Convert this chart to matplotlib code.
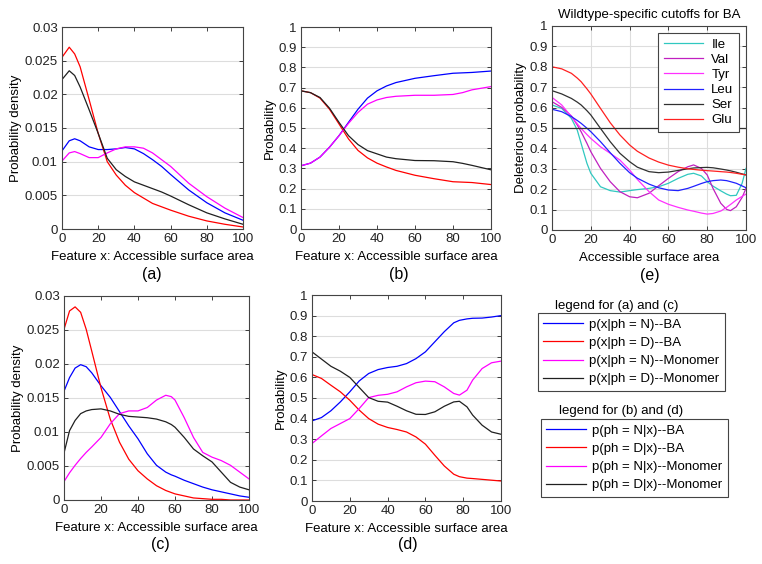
import numpy as np
import matplotlib
matplotlib.use("Agg")
from matplotlib import pyplot as plt
from matplotlib.lines import Line2D

plt.rcParams['font.family'] = ['Liberation Sans', 'DejaVu Sans']
plt.rcParams['font.size'] = 9.5
FS = 9.5

#%% data

# (a) class-conditional densities, Monomer/BA
xa = [0, 4, 7, 10, 15, 20, 25, 30, 35, 40, 45, 50, 55, 60, 70, 80, 90, 100]
a_N_BA = [0.0116, 0.0131, 0.0134, 0.0131, 0.0122, 0.0118, 0.0118, 0.0119, 0.0121, 0.0119,
          0.0112, 0.0103, 0.0093, 0.0081, 0.0058, 0.0039, 0.0024, 0.0013]
a_D_BA = [0.0255, 0.0270, 0.0260, 0.0241, 0.0192, 0.0142, 0.0100, 0.0080, 0.0065, 0.0054,
          0.0046, 0.0038, 0.0033, 0.0028, 0.0019, 0.0012, 0.0007, 0.0003]
a_N_Mo = [0.0101, 0.0113, 0.0115, 0.0112, 0.0106, 0.0106, 0.0113, 0.0119, 0.0122, 0.0122,
          0.0120, 0.0113, 0.0103, 0.0093, 0.0068, 0.0048, 0.0031, 0.0017]
a_D_Mo = [0.0222, 0.0235, 0.0228, 0.0211, 0.0177, 0.0142, 0.0105, 0.0088, 0.0078, 0.0070,
          0.0065, 0.0060, 0.0055, 0.0049, 0.0036, 0.0024, 0.0015, 0.0007]

# (b) posteriors
xb = [0, 5, 10, 15, 20, 25, 30, 35, 40, 45, 50, 60, 70, 80, 85, 90, 100]
b_N_BA = [0.313, 0.326, 0.356, 0.405, 0.462, 0.528, 0.593, 0.648, 0.684, 0.708, 0.725,
          0.746, 0.759, 0.771, 0.773, 0.775, 0.782]
b_D_BA = [0.684, 0.675, 0.648, 0.593, 0.520, 0.446, 0.389, 0.352, 0.326, 0.307, 0.290,
          0.266, 0.249, 0.234, 0.232, 0.230, 0.220]
b_N_Mo = [0.313, 0.326, 0.356, 0.405, 0.462, 0.523, 0.577, 0.618, 0.639, 0.651, 0.657,
          0.662, 0.662, 0.666, 0.675, 0.689, 0.705]
b_D_Mo = [0.684, 0.675, 0.651, 0.598, 0.528, 0.462, 0.418, 0.388, 0.372, 0.356, 0.348,
          0.339, 0.338, 0.333, 0.325, 0.315, 0.293]

# (c)
xc = [0, 3, 6, 9, 12, 15, 20, 25, 30, 35, 40, 45, 50, 55, 58, 60, 65, 70, 75, 80, 85, 90, 95, 100]
c_N_BA = [0.0160, 0.0180, 0.0194, 0.0199, 0.0196, 0.0187, 0.0168, 0.0151, 0.0130, 0.0109,
          0.0090, 0.0068, 0.0051, 0.0041, 0.0037, 0.0035, 0.0029, 0.0024, 0.0019, 0.0015,
          0.0012, 0.0009, 0.0006, 0.0004]
c_D_BA = [0.0251, 0.0278, 0.0284, 0.0276, 0.0251, 0.0219, 0.0165, 0.0119, 0.0085, 0.0060,
          0.0043, 0.0031, 0.0021, 0.0014, 0.0011, 0.0009, 0.0006, 0.0003, 0.0002, 0.0001,
          0.0001, 0.0, 0.0, 0.0]
c_N_Mo = [0.0027, 0.0040, 0.0051, 0.0061, 0.0070, 0.0078, 0.0092, 0.0112, 0.0127, 0.0131,
          0.0131, 0.0136, 0.0147, 0.0154, 0.0152, 0.0147, 0.0121, 0.0092, 0.0070, 0.0063,
          0.0058, 0.0051, 0.0041, 0.0031]
c_D_Mo = [0.0069, 0.0102, 0.0117, 0.0127, 0.0131, 0.0133, 0.0134, 0.0131, 0.0126, 0.0123,
          0.0122, 0.0121, 0.0119, 0.0115, 0.0111, 0.0107, 0.0092, 0.0075, 0.0065, 0.0056,
          0.0041, 0.0026, 0.0019, 0.0015]

# (d)
xd = [0, 5, 10, 15, 20, 25, 30, 35, 40, 45, 50, 55, 60, 65, 70, 75, 78, 82, 85, 90, 95, 100]
d_N_BA = [0.389, 0.405, 0.438, 0.481, 0.530, 0.583, 0.619, 0.638, 0.648, 0.654, 0.667,
          0.691, 0.724, 0.773, 0.822, 0.865, 0.877, 0.884, 0.887, 0.888, 0.893, 0.900]
d_D_BA = [0.614, 0.595, 0.562, 0.530, 0.489, 0.441, 0.400, 0.373, 0.357, 0.347, 0.335,
          0.311, 0.276, 0.222, 0.170, 0.130, 0.118, 0.111, 0.109, 0.105, 0.101, 0.097]
d_N_Mo = [0.279, 0.316, 0.352, 0.376, 0.400, 0.449, 0.502, 0.513, 0.518, 0.530, 0.554,
          0.574, 0.582, 0.579, 0.554, 0.522, 0.514, 0.538, 0.587, 0.643, 0.671, 0.679]
d_D_Mo = [0.724, 0.689, 0.654, 0.630, 0.600, 0.551, 0.502, 0.484, 0.480, 0.460, 0.438,
          0.421, 0.420, 0.433, 0.460, 0.481, 0.484, 0.457, 0.417, 0.368, 0.335, 0.324]

# (e) wildtype-specific deleterious probability
xe = [0, 5, 10, 13, 15, 18, 20, 25, 30, 35, 40, 44, 50, 55, 60, 65, 70, 73, 77, 80, 83, 87,
      90, 92, 95, 98, 100]
e_Ile = [0.613, 0.596, 0.547, 0.490, 0.425, 0.327, 0.278, 0.212, 0.193, 0.186, 0.193, 0.198,
         0.204, 0.212, 0.229, 0.253, 0.273, 0.278, 0.265, 0.237, 0.215, 0.192, 0.176, 0.168,
         0.170, 0.229, 0.302]
e_Val = [0.629, 0.601, 0.559, 0.515, 0.482, 0.425, 0.384, 0.302, 0.237, 0.188, 0.163, 0.158,
         0.180, 0.217, 0.253, 0.286, 0.310, 0.319, 0.302, 0.270, 0.204, 0.131, 0.101, 0.095,
         0.114, 0.160, 0.204]
e_Tyr = [0.650, 0.613, 0.556, 0.521, 0.498, 0.468, 0.449, 0.408, 0.376, 0.343, 0.294, 0.248,
         0.188, 0.147, 0.126, 0.111, 0.098, 0.092, 0.083, 0.078, 0.081, 0.093, 0.111, 0.125,
         0.147, 0.165, 0.176]
e_Leu = [0.592, 0.580, 0.556, 0.537, 0.523, 0.499, 0.482, 0.433, 0.379, 0.327, 0.281, 0.254,
         0.225, 0.207, 0.196, 0.193, 0.204, 0.214, 0.228, 0.237, 0.242, 0.245, 0.242, 0.237,
         0.229, 0.216, 0.207]
e_Ser = [0.683, 0.667, 0.645, 0.627, 0.613, 0.585, 0.564, 0.498, 0.433, 0.376, 0.335, 0.308,
         0.286, 0.281, 0.284, 0.292, 0.300, 0.304, 0.306, 0.307, 0.305, 0.299, 0.294, 0.290,
         0.283, 0.275, 0.270]
e_Glu = [0.800, 0.790, 0.768, 0.745, 0.727, 0.692, 0.667, 0.596, 0.526, 0.466, 0.417, 0.386,
         0.353, 0.333, 0.318, 0.308, 0.300, 0.297, 0.293, 0.291, 0.289, 0.286, 0.284, 0.282,
         0.278, 0.273, 0.270]
cutoff = 0.5

labels_ac = ["p(x|ph = N)--BA", "p(x|ph = D)--BA", "p(x|ph = N)--Monomer", "p(x|ph = D)--Monomer"]
labels_bd = ["p(ph = N|x)--BA", "p(ph = D|x)--BA", "p(ph = N|x)--Monomer", "p(ph = D|x)--Monomer"]
aa_names = ["Ile", "Val", "Tyr", "Leu", "Ser", "Glu"]

#%% plotting

cols = ["#0000ff", "#ff0000", "#ff00ff", "#202020"]
aa_cols = ["#30c8c0", "#c020c0", "#ff30ff", "#2020ff", "#303030", "#ff2020"]
lw = 0.9

fig = plt.figure(figsize=(7.62, 5.64), dpi=100)


def style(ax, ylim, yticks, xgrid=False):
    ax.set_xlim(0, 100)
    ax.set_ylim(*ylim)
    ax.set_xticks(np.arange(0, 101, 20))
    ax.set_yticks(yticks)
    ax.set_yticklabels([("%g" % t) for t in yticks])
    ax.tick_params(direction="in", top=True, right=True, length=3, width=0.6,
                   labelsize=FS, colors="#222222", pad=3)
    ax.grid(axis="y", color="#dddddd", linewidth=0.8)
    if xgrid:
        ax.grid(axis="x", color="#dddddd", linewidth=0.8)
    ax.set_axisbelow(True)
    for s in ax.spines.values():
        s.set_color("#444444")
        s.set_linewidth(0.8)


W, H = 762., 564.


def box(l, r, t, b):
    return [l / W, 1 - b / H, (r - l) / W, (b - t) / H]


ax_a = fig.add_axes(box(62, 243, 27, 229))
ax_b = fig.add_axes(box(301, 491, 27, 229))
ax_e = fig.add_axes(box(552, 746, 26, 230))
ax_c = fig.add_axes(box(64, 249, 296, 500))
ax_d = fig.add_axes(box(312, 501, 295, 501))

for ys, c in zip([a_N_BA, a_D_BA, a_N_Mo, a_D_Mo], cols):
    ax_a.plot(xa, ys, color=c, lw=lw)
for ys, c in zip([b_N_BA, b_D_BA, b_N_Mo, b_D_Mo], cols):
    ax_b.plot(xb, ys, color=c, lw=lw)
for ys, c in zip([c_N_BA, c_D_BA, c_N_Mo, c_D_Mo], cols):
    ax_c.plot(xc, ys, color=c, lw=lw)
for ys, c in zip([d_N_BA, d_D_BA, d_N_Mo, d_D_Mo], cols):
    ax_d.plot(xd, ys, color=c, lw=lw)

dens_ticks = [0, 0.005, 0.01, 0.015, 0.02, 0.025, 0.03]
prob_ticks = list(np.round(np.arange(0, 1.01, 0.1), 1))

style(ax_a, (0, 0.03), dens_ticks)
style(ax_c, (0, 0.03), dens_ticks)
style(ax_b, (0, 1), prob_ticks)
style(ax_d, (0, 1), prob_ticks)
style(ax_e, (0, 1), prob_ticks, xgrid=True)

for ax in [ax_a, ax_c]:
    ax.set_ylabel("Probability density", labelpad=2)
for ax in [ax_b, ax_d]:
    ax.set_ylabel("Probability", labelpad=2)
for ax in [ax_a, ax_b, ax_c, ax_d]:
    ax.set_xlabel("Feature x: Accessible surface area", labelpad=4)

e_lines = []
for ys, c, n in zip([e_Ile, e_Val, e_Tyr, e_Leu, e_Ser, e_Glu], aa_cols, aa_names):
    e_lines.append(ax_e.plot(xe, ys, color=c, lw=lw, label=n)[0])
ax_e.axhline(cutoff, color="#333333", lw=0.9)
ax_e.set_xlabel("Accessible surface area", labelpad=4)
ax_e.set_ylabel("Deleterious probability", labelpad=2)
ax_e.set_title("Wildtype-specific cutoffs for BA", fontsize=FS, pad=6)
leg_e = ax_e.legend(loc="upper right", fontsize=FS, handlelength=3.0, fancybox=False,
                    edgecolor="#444444", framealpha=1, borderaxespad=0.5,
                    labelspacing=0.22, handletextpad=0.6, borderpad=0.45)
leg_e.get_frame().set_linewidth(0.8)

# panel letters
fig.text(152 / W, 1 - 275 / H, "(a)", ha="center", va="center", fontsize=11.5)
fig.text(399 / W, 1 - 275 / H, "(b)", ha="center", va="center", fontsize=11.5)
fig.text(650 / W, 1 - 276 / H, "(e)", ha="center", va="center", fontsize=11.5)
fig.text(160 / W, 1 - 545 / H, "(c)", ha="center", va="center", fontsize=11.5)
fig.text(408 / W, 1 - 545 / H, "(d)", ha="center", va="center", fontsize=11.5)

# separate legends for the four-curve panels
h_ac = [Line2D([], [], color=c, lw=lw) for c in cols]
h_bd = [Line2D([], [], color=c, lw=lw) for c in cols]
fig.text(617 / W, 1 - 306 / H, "legend for (a) and (c)", ha="center", va="center", fontsize=FS)
fig.text(621 / W, 1 - 411 / H, "legend for (b) and (d)", ha="center", va="center", fontsize=FS)
for h, labs, l, t in [(h_ac, labels_ac, 538, 313), (h_bd, labels_bd, 541, 419)]:
    lg = fig.legend(h, labs, loc="upper left", bbox_to_anchor=(l / W, 1 - t / H),
                    borderaxespad=0, fontsize=FS, handlelength=3.0, fancybox=False,
                    edgecolor="#444444", framealpha=1, labelspacing=0.46,
                    handletextpad=0.5, borderpad=0.4)
    lg.get_frame().set_linewidth(0.8)

fig.savefig("out.png", dpi=100)
